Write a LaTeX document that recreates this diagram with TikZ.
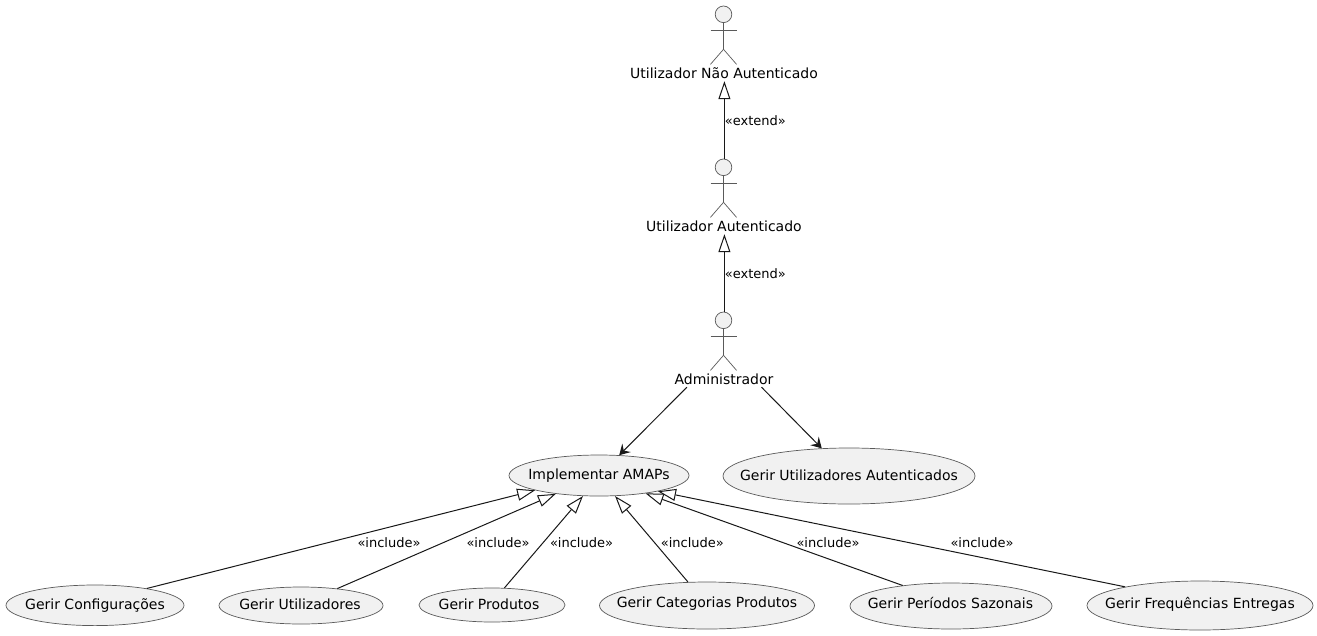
\documentclass[tikz,border=0pt]{standalone}
\usepackage{fontspec}
\setmainfont{DejaVu Sans}
\usetikzlibrary{shapes.geometric,arrows.meta}
\definecolor{umlfill}{HTML}{F1F1F1}
\definecolor{umlline}{HTML}{181818}
\definecolor{umlthin}{HTML}{5A5A5A}
\tikzset{
  usecase/.style={ellipse,draw=umlthin,fill=umlfill,line width=0.7pt,inner sep=0pt,text=black,font=\fontsize{14}{16}\selectfont},
  actorbox/.style={rectangle,minimum width=100pt,minimum height=75pt,inner sep=0pt},
  actorhead/.style={circle,draw=umlthin,fill=umlfill,line width=0.7pt,minimum size=16.6pt,inner sep=0pt},
  actorname/.style={inner sep=0pt,minimum height=16pt,font=\fontsize{14}{16}\selectfont},
  actorlimb/.style={draw=umlthin,line width=0.7pt},
  generalise/.style={draw=umlline,line width=1pt,-{Triangle[open,length=18pt,width=12pt,fill=white]}},
  assoc/.style={draw=umlline,line width=1pt,-{Stealth[length=10.4pt,width=12pt,inset=4pt]}},
  stereo/.style={inner sep=0pt,font=\fontsize{13}{15}\selectfont}
}
% horizontal shift, baseline drop below the ellipse centre (both doubled), text
\newcommand{\uctext}[3]{\raisebox{0pt}[#2][0pt]{\makebox[0pt][c]{\hspace*{#1}#3}}}
\newcommand{\umlactor}[4]{% name, x, y of head centre, label
  \node[actorbox] (#1) at (#2+0.4,#3+29.2) {};
  \node[actorhead] (#1head) at (#2-0.5,#3) {};
  \node[actorname] (#1name) at (#2,#3+59) {#4};
  \draw[actorlimb] (#1head.south) -- (#2-0.5,#3+35) -- (#2-13.5,#3+50);
  \draw[actorlimb] (#2-0.5,#3+35) -- (#2+12.5,#3+50);
  \draw[actorlimb] (#2-13.5,#3+16) -- (#2+12.5,#3+16);
}
\begin{document}
\begin{tikzpicture}[x=1pt,y=-1pt]
\useasboundingbox[fill=white] (0,0) rectangle (1317,635);
\umlactor{guest}{724}{14.3}{Utilizador Não Autenticado}
\umlactor{auth}{724}{167.3}{Utilizador Autenticado}
\umlactor{admin}{724}{320.3}{Administrador}

\node[usecase,minimum width=180pt,minimum height=41pt] (impl) at (599,475.5) {\uctext{0pt}{7.6pt}{Implementar AMAPs}};
\node[usecase,minimum width=252pt,minimum height=56pt] (gua) at (849,476) {\uctext{0pt}{8pt}{Gerir Utilizadores Autenticados}};
\node[usecase,minimum width=178pt,minimum height=40.6pt] (conf) at (95,605.3) {\uctext{0pt}{8pt}{Gerir Configurações}};
\node[usecase,minimum width=164pt,minimum height=37pt] (util) at (301,605.5) {\uctext{-2pt}{8pt}{Gerir Utilizadores}};
\node[usecase,minimum width=146pt,minimum height=34pt] (prod) at (492,605) {\uctext{-6pt}{8pt}{Gerir Produtos}};
\node[usecase,minimum width=215pt,minimum height=47pt] (cat) at (707,605.5) {\uctext{0pt}{4.6pt}{Gerir Categorias Produtos}};
\node[usecase,minimum width=202pt,minimum height=46pt] (per) at (951,606) {\uctext{-1pt}{5.4pt}{Gerir Períodos Sazonais}};
\node[usecase,minimum width=226pt,minimum height=49pt] (freq) at (1200,605.5) {\uctext{0pt}{6.4pt}{Gerir Frequências Entregas}};

\draw[generalise] (auth.north) -- (guest.south);
\draw[generalise] (admin.north) -- (auth.south);
\draw[assoc] (admin) -- (impl);
\draw[assoc] (admin) -- (gua);
\draw[generalise] (conf.18) -- (impl.193.2);
\draw[generalise] (util.25.7) -- (impl.203.8);
\draw[generalise] (prod.54.8) -- (impl.232);
\draw[generalise] (cat.129) -- (impl.308);
\draw[generalise] (per.157.6) -- (impl.339.6);
\draw[generalise] (freq.166.5) -- (impl.345.3);

\node[stereo] (l1) at (755.3,121) {«extend»};
\node[stereo] (l2) at (755.3,274) {«extend»};
\node[stereo] (l3) at (389,543) {«include»};
\node[stereo] (l4) at (498,543) {«include»};
\node[stereo] (l5) at (581.5,543) {«include»};
\node[stereo] (l6) at (692.4,543) {«include»};
\node[stereo] (l7) at (828,543) {«include»};
\node[stereo] (l8) at (982,543) {«include»};
\end{tikzpicture}
\end{document}
